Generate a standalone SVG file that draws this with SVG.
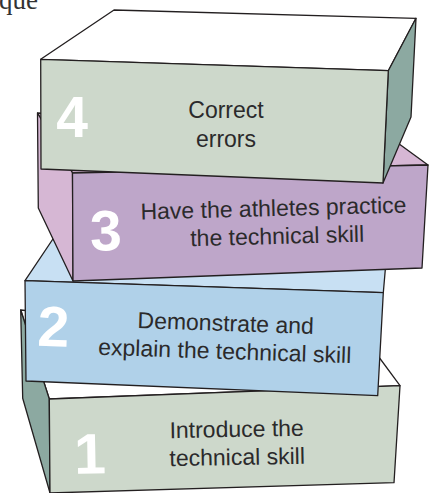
<svg xmlns="http://www.w3.org/2000/svg" width="433" height="493" viewBox="0 0 433 493">
  <style>
    .edge { stroke: #231f20; stroke-width: 1.3; stroke-linejoin: round; }
    .top-white { fill: #ffffff; }
    .sage { fill: #cdd8cb; }
    .teal { fill: #8ca9a1; }
    .lilac { fill: #bea6c9; }
    .pink { fill: #d6b7d4; }
    .blue { fill: #b0d1e9; }
    .pale-blue { fill: #c8e0f3; }
    .num { font-family: "Liberation Sans", Arial, sans-serif; font-weight: bold; font-size: 57px; fill: #ffffff; text-anchor: middle; }
    .label { font-family: "Liberation Sans", Arial, sans-serif; font-size: 23px; fill: #2b2a2b; text-anchor: middle; }
    .caption { font-family: "Liberation Serif", "Times New Roman", serif; font-size: 27px; fill: #333333; }
  </style>

  <!-- tail of a running heading, clipped at the page edge -->
  <text class="caption" x="-1" y="9">que</text>

  <!-- Step 1: bottom block -->
  <g id="step1">
    <polygon class="top-white edge" points="20.7,310 370,345 400,385.7 49.3,399"/>
    <polygon class="teal edge" points="20.7,310 49.3,399 50,493 22.7,398.3"/>
    <polygon class="sage edge" points="49.3,399 400,385.7 394,482.7 50,493"/>
    <g transform="rotate(-1 235 450)">
      <text class="num" x="90" y="471">1</text>
      <text class="label" x="237" y="437">Introduce the</text>
      <text class="label" x="237" y="465">technical skill</text>
    </g>
  </g>

  <!-- Step 2 -->
  <g id="step2">
    <polygon class="pale-blue edge" points="25,280.7 65,221 387,250 383.3,292.7"/>
    <polygon class="blue edge" points="25,280.7 383.3,292.7 377.7,395.7 26,381"/>
    <g transform="rotate(1.9 225 345)">
      <text class="num" x="53" y="352">2</text>
      <text class="label" x="225" y="331">Demonstrate and</text>
      <text class="label" x="225" y="359">explain the technical skill</text>
    </g>
  </g>

  <!-- Step 3 -->
  <g id="step3">
    <polygon class="pink edge" points="37.5,113 380,130 428,165 72.5,173"/>
    <polygon class="pink edge" points="37.5,113 72.5,173 73,281 38.3,208"/>
    <polygon class="lilac edge" points="72.5,173 428,165 422,268 73,281"/>
    <g transform="rotate(-1.5 275 230)">
      <text class="num" x="106" y="246">3</text>
      <text class="label" x="274" y="216">Have the athletes practice</text>
      <text class="label" x="277" y="244">the technical skill</text>
    </g>
  </g>

  <!-- Step 4: top block -->
  <g id="step4">
    <polygon class="top-white edge" points="114,10 416,18.3 388.3,70.7 40.7,59.3"/>
    <polygon class="teal edge" points="388.3,70.7 416,18.3 411,117 383,183"/>
    <polygon class="sage edge" points="40.7,59.3 388.3,70.7 383,183 41,169"/>
    <text class="num" x="72" y="137" font-size="56">4</text>
    <text class="label" x="226" y="118">Correct</text>
    <text class="label" x="226" y="146.7">errors</text>
  </g>
</svg>
